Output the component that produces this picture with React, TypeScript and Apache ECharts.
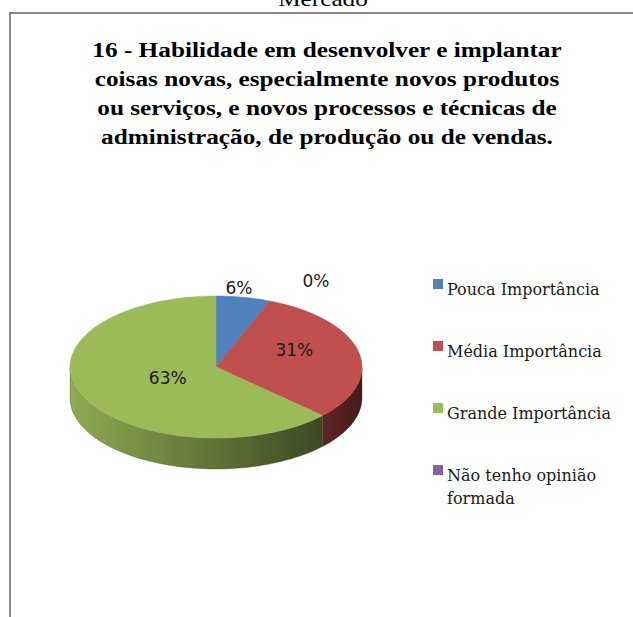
import React, { useEffect, useRef } from "react";
import * as echarts from "echarts";

// ---- data ----
const categories = [
  "Pouca Importância",
  "Média Importância",
  "Grande Importância",
  "Não tenho opinião formada",
];
const legendLabels = [
  "Pouca Importância",
  "Média Importância",
  "Grande Importância",
  "Não tenho opinião\nformada",
];
const values = [6, 31, 63, 0];
const colors = ["#4F81BD", "#C0504D", "#9BBB59", "#8064A2"];
const sideStops = [
  ["#3d6699", "#2b4a70"],
  ["#5e2524", "#471a19"],
  ["#8dab52", "#3c4923"],
  ["#634d80", "#4a3961"],
];
const titleLines = [
  "16 - Habilidade em desenvolver e implantar",
  "coisas novas, especialmente novos produtos",
  "ou serviços, e novos processos e técnicas de",
  "administração, de produção ou de vendas.",
];
const topText = "Mercado";

// ---- layout (style) ----
const CX = 216;
const CY = 367;
const RX = 146;
const RY = 71;
const DEPTH = 31;
const TITLE_FONT = "bold 22px 'Liberation Serif', 'Times New Roman', serif";
const TITLE_TARGET_W = 470;
const labelLayout = [
  { f: 1.13, dx: -8, dy: 0 },
  { f: 0.55, dx: 0, dy: -8 },
  { f: 0.36, dx: 0, dy: 1 },
  { f: 1.0, dx: 100, dy: -15 },
];

const total = values.reduce((a, b) => a + b, 0);
function sliceAngles(i: number) {
  let cum = 0;
  for (let k = 0; k < i; k++) cum += values[k];
  const a = -Math.PI / 2 + (2 * Math.PI * cum) / total;
  const b = -Math.PI / 2 + (2 * Math.PI * (cum + values[i])) / total;
  return [a, b];
}
function pt(t: number, dy = 0) {
  return [CX + RX * Math.cos(t), CY + RY * Math.sin(t) + dy];
}
function arc(a: number, b: number, dy = 0) {
  const n = Math.max(2, Math.ceil(((b - a) / (2 * Math.PI)) * 180));
  const out: number[][] = [];
  for (let k = 0; k <= n; k++) out.push(pt(a + ((b - a) * k) / n, dy));
  return out;
}
function measure(text: string, font: string) {
  try {
    const c = document.createElement("canvas").getContext("2d");
    if (!c) return 0;
    c.font = font;
    return c.measureText(text).width;
  } catch (e) {
    return 0;
  }
}

export default function App() {
  const ref = useRef<HTMLDivElement>(null);
  useEffect(() => {
    document.body.style.margin = "0";
    if (!ref.current) return;
    const chart = echarts.init(ref.current, undefined, { renderer: "svg" });

    const w0 = measure(titleLines[0], TITLE_FONT);
    const sx = w0 > 0 ? Math.min(1.3, Math.max(0.8, TITLE_TARGET_W / w0)) : 1;

    const graphics: any[] = [
      {
        type: "rect",
        shape: { x: 10, y: 13, width: 660, height: 640 },
        style: { fill: "#ffffff", stroke: "#8a8a8a", lineWidth: 2 },
        z: 0,
      },
      {
        type: "text",
        x: 323,
        y: -1,
        scaleX: sx,
        style: {
          text: topText,
          x: 0,
          y: 0,
          font: "22px 'Liberation Serif', 'Times New Roman', serif",
          fill: "#000",
          textAlign: "center",
          textVerticalAlign: "middle",
        },
        z: 1,
      },
    ];
    titleLines.forEach((line, i) => {
      graphics.push({
        type: "text",
        x: 327,
        y: 50 + i * 29,
        scaleX: sx,
        style: {
          text: line,
          x: 0,
          y: 0,
          font: TITLE_FONT,
          fill: "#000",
          textAlign: "center",
          textVerticalAlign: "middle",
        },
        z: 1,
      });
    });
    legendLabels.forEach((name, i) => {
      const y = 286 + i * 62;
      graphics.push({
        type: "rect",
        shape: { x: 433, y: y - 7, width: 10, height: 10 },
        style: { fill: colors[i] },
        z: 1,
      });
      graphics.push({
        type: "text",
        style: {
          text: name,
          x: 447,
          y: y - 8,
          font: "16px 'DejaVu Serif', serif",
          lineHeight: 23,
          fill: "#1a1a1a",
          textAlign: "left",
          textVerticalAlign: "top",
        },
        z: 1,
      });
    });

    chart.setOption({
      animation: false,
      graphic: graphics,
      series: [
        {
          type: "custom",
          name: "sides",
          coordinateSystem: "none",
          z: 2,
          silent: true,
          data: values.map((v, i) => ({ name: categories[i], value: [v] })),
          renderItem: (params: any) => {
            const i = params.dataIndex;
            const [a, b] = sliceAngles(i);
            const a1 = Math.max(a, 0);
            const b1 = Math.min(b, Math.PI);
            if (values[i] === 0 || b1 <= a1) return { type: "group", children: [] };
            const top = arc(a1, b1, 0);
            const bottom = arc(a1, b1, DEPTH).reverse();
            return {
              type: "polygon",
              shape: { points: top.concat(bottom) },
              style: {
                fill: new echarts.graphic.LinearGradient(0, 0, 1, 0, [
                  { offset: 0, color: sideStops[i][0] },
                  { offset: 1, color: sideStops[i][1] },
                ]),
                stroke: sideStops[i][1],
                lineWidth: 0.3,
              },
            };
          },
        },
        {
          type: "custom",
          name: "tops",
          coordinateSystem: "none",
          z: 3,
          silent: true,
          data: values.map((v, i) => ({ name: categories[i], value: [v] })),
          renderItem: (params: any) => {
            const i = params.dataIndex;
            const [a, b] = sliceAngles(i);
            const children: any[] = [];
            if (values[i] > 0) {
              children.push({
                type: "polygon",
                shape: { points: [[CX, CY]].concat(arc(a, b, 0)) },
                style: { fill: colors[i], stroke: colors[i], lineWidth: 0.5 },
              });
            }
            const mid = (a + b) / 2;
            const L = labelLayout[i];
            const lx = CX + L.f * RX * Math.cos(mid) + L.dx;
            const ly = CY + L.f * RY * Math.sin(mid) + L.dy;
            children.push({
              type: "text",
              z2: 10,
              style: {
                text: Math.round((values[i] / total) * 100) + "%",
                x: lx,
                y: ly,
                font: "17px 'DejaVu Sans', sans-serif",
                fill: "#1a1a1a",
                textAlign: "center",
                textVerticalAlign: "middle",
                align: "center",
                verticalAlign: "middle",
              },
            });
            return { type: "group", children };
          },
        },
      ],
    });
    return () => chart.dispose();
  }, []);
  return (
    <div
      ref={ref}
      style={{ position: "absolute", left: 0, top: 0, width: 633, height: 617 }}
    />
  );
}
